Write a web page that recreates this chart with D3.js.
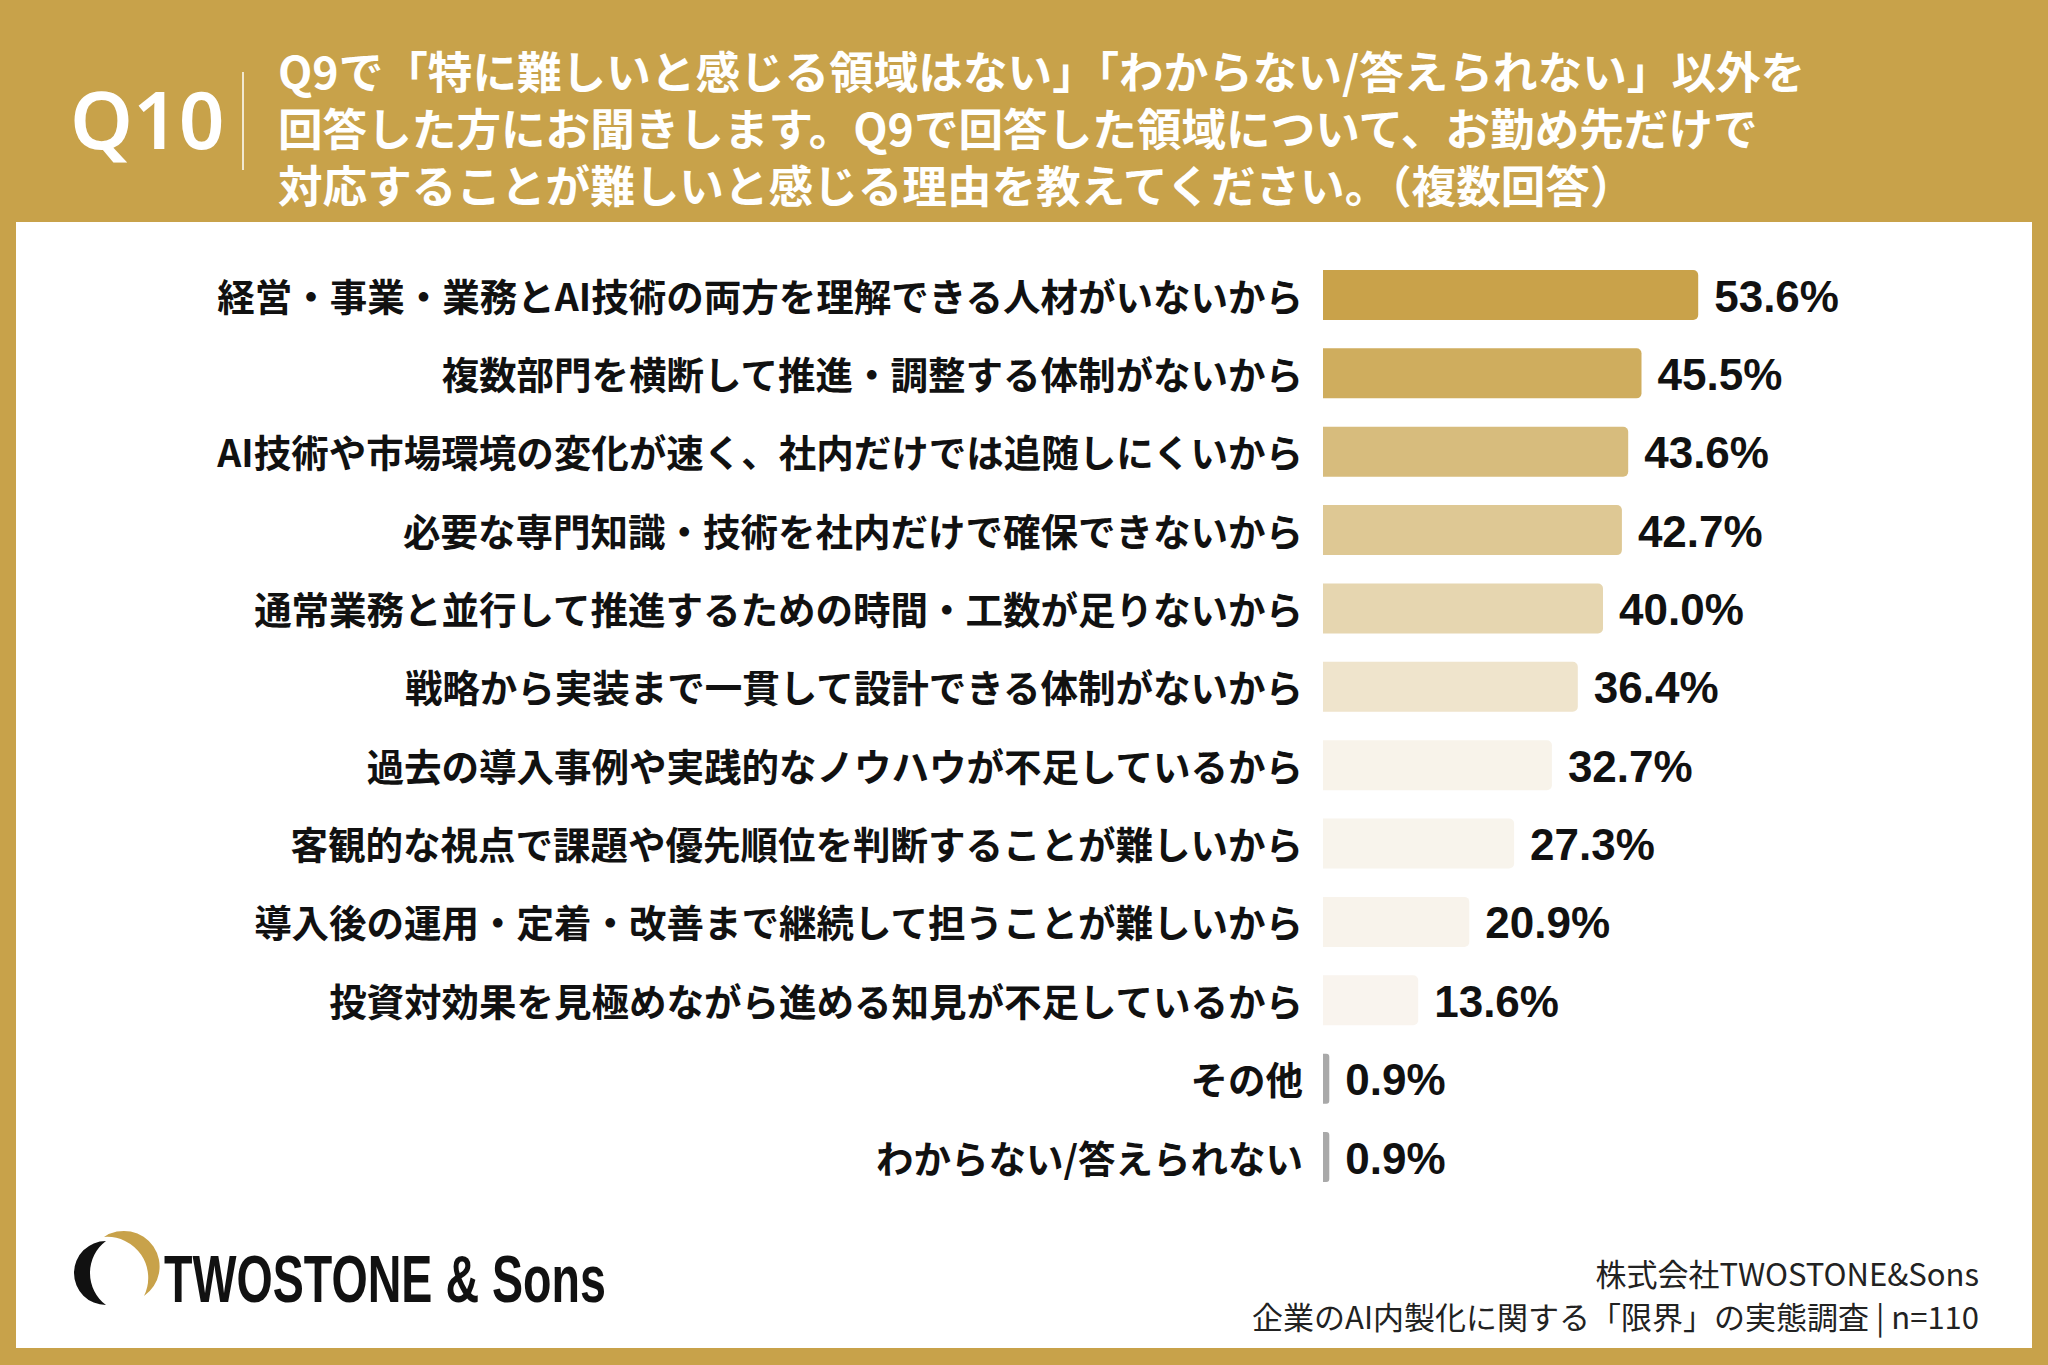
<!DOCTYPE html>
<html>
<head>
<meta charset="utf-8">
<script src="https://cdn.jsdelivr.net/npm/d3@7"></script>
<style>
  html, body { margin: 0; padding: 0; background: #c8a24a; }
  svg { display: block; }
</style>
</head>
<body>
<div id="chart"></div>
<script>
// 回答データ
var categories = [
  "経営・事業・業務とAI技術の両方を理解できる人材がいないから",
  "複数部門を横断して推進・調整する体制がないから",
  "AI技術や市場環境の変化が速く、社内だけでは追随しにくいから",
  "必要な専門知識・技術を社内だけで確保できないから",
  "通常業務と並行して推進するための時間・工数が足りないから",
  "戦略から実装まで一貫して設計できる体制がないから",
  "過去の導入事例や実践的なノウハウが不足しているから",
  "客観的な視点で課題や優先順位を判断することが難しいから",
  "導入後の運用・定着・改善まで継続して担うことが難しいから",
  "投資対効果を見極めながら進める知見が不足しているから",
  "その他",
  "わからない/答えられない"
];
var values = [53.6, 45.5, 43.6, 42.7, 40.0, 36.4, 32.7, 27.3, 20.9, 13.6, 0.9, 0.9];
var barColors = ["#c9a24a", "#cfad5e", "#d7bc7d", "#dec894", "#e6d6b0", "#efe4cc",
                 "#f8f3ea", "#f8f4ec", "#f8f3eb", "#f9f4ee", "#a9a9a9", "#a9a9a9"];
var titleLines = [
  "Q9で「特に難しいと感じる領域はない」「わからない/答えられない」以外を",
  "回答した方にお聞きします。Q9で回答した領域について、お勤め先だけで",
  "対応することが難しいと感じる理由を教えてください。（複数回答）"
];
var footerLines = ["株式会社TWOSTONE&Sons", "企業のAI内製化に関する「限界」の実態調査 | n=110"];

var W = 2048, H = 1365;
var gold = "#c8a24a";
var jp = "'Noto Sans CJK JP', 'Noto Sans', sans-serif";

var svg = d3.select("#chart").append("svg")
  .attr("width", W).attr("height", H);

svg.append("rect").attr("width", W).attr("height", H).attr("fill", gold);
svg.append("rect")
  .attr("x", 16).attr("y", 222).attr("width", 2016).attr("height", 1126)
  .attr("fill", "#ffffff");

/* ヘッダー */
svg.append("text")
  .text("Q10")
  .attr("x", 70).attr("y", 149)
  .attr("fill", "#fff")
  .attr("font-family", "'Noto Sans', 'Liberation Sans', sans-serif")
  .attr("font-weight", 600)
  .attr("font-size", 80);

svg.append("line")
  .attr("x1", 243).attr("x2", 243).attr("y1", 72).attr("y2", 170)
  .attr("stroke", "#fff").attr("stroke-width", 1.5);

// 設問文は1つのtextに3行のtspan
var title = svg.append("text")
  .attr("class", "title")
  .attr("y", 69)
  .attr("dominant-baseline", "central")
  .attr("fill", "#fff")
  .attr("font-family", jp)
  .attr("font-weight", 700)
  .attr("font-size", 44.6);
title.selectAll("tspan")
  .data(titleLines)
  .enter().append("tspan")
  .text(function(d){ return d; })
  .attr("x", 278)
  .attr("dy", function(d, i){ return i === 0 ? 0 : 57; });

/* 棒グラフ */
var x0 = 1323;
var x = d3.scaleLinear().domain([0, 100]).range([0, 700]);
var y = d3.scalePoint().domain(categories).range([295, 1157]);
var barH = 50;

// 右側だけ角丸の棒
var barPath = function(w, h, r){
  r = Math.min(r, w / 2);
  return "M0," + (-h / 2) +
    "H" + (w - r) +
    "A" + r + "," + r + " 0 0 1 " + w + "," + (-h / 2 + r) +
    "V" + (h / 2 - r) +
    "A" + r + "," + r + " 0 0 1 " + (w - r) + "," + (h / 2) +
    "H0Z";
};

var rows = svg.selectAll(".row")
  .data(categories)
  .enter().append("g")
  .attr("class", "row")
  .attr("transform", function(d){ return "translate(0," + y(d) + ")"; });

rows.append("path")
  .attr("transform", "translate(" + x0 + ",0)")
  .attr("d", function(d, i){ return barPath(x(values[i]), barH, values[i] < 2 ? 3 : 5); })
  .attr("fill", function(d, i){ return barColors[i]; });

rows.append("text")
  .text(function(d){ return d; })
  .attr("x", 1303)
  .attr("y", -1)
  .attr("text-anchor", "end")
  .attr("dominant-baseline", "central")
  .attr("fill", "#111")
  .attr("font-family", jp)
  .attr("font-weight", 700)
  .attr("font-size", 37.5);

rows.append("text")
  .text(function(d, i){ return values[i].toFixed(1) + "%"; })
  .attr("x", function(d, i){ return x0 + x(values[i]) + 16; })
  .attr("y", 1)
  .attr("dominant-baseline", "central")
  .attr("fill", "#111")
  .attr("font-family", "'Liberation Sans', Arial, sans-serif")
  .attr("font-weight", 700)
  .attr("font-size", 44);

/* フッター */
var logo = svg.append("g");
logo.append("path")
  .attr("d", "M110,1241 A32,32 0 0 0 110,1305 A40,40 0 0 1 110,1241 Z")
  .attr("transform", "translate(-4,0)")
  .attr("fill", "#111");
logo.append("path")
  .attr("d", "M104,1237 A33,33 0 0 1 144,1296 A41,41 0 0 0 104,1237 Z")
  .attr("fill", gold);

logo.append("text")
  .text("TWOSTONE & Sons")
  .attr("x", 164).attr("y", 1302)
  .attr("fill", "#111")
  .attr("font-family", "'Liberation Sans Narrow', 'Liberation Sans', sans-serif")
  .attr("font-weight", 700)
  .attr("font-size", 66)
  .attr("textLength", 442)
  .attr("lengthAdjust", "spacingAndGlyphs");

svg.selectAll(".foot")
  .data(footerLines)
  .enter().append("text")
  .attr("class", "foot")
  .text(function(d){ return d; })
  .attr("x", 1979)
  .attr("y", function(d, i){ return 1272 + i * 43; })
  .attr("text-anchor", "end")
  .attr("dominant-baseline", "central")
  .attr("fill", "#222")
  .attr("font-family", jp)
  .attr("font-weight", 400)
  .attr("font-size", 31);
</script>
</body>
</html>
